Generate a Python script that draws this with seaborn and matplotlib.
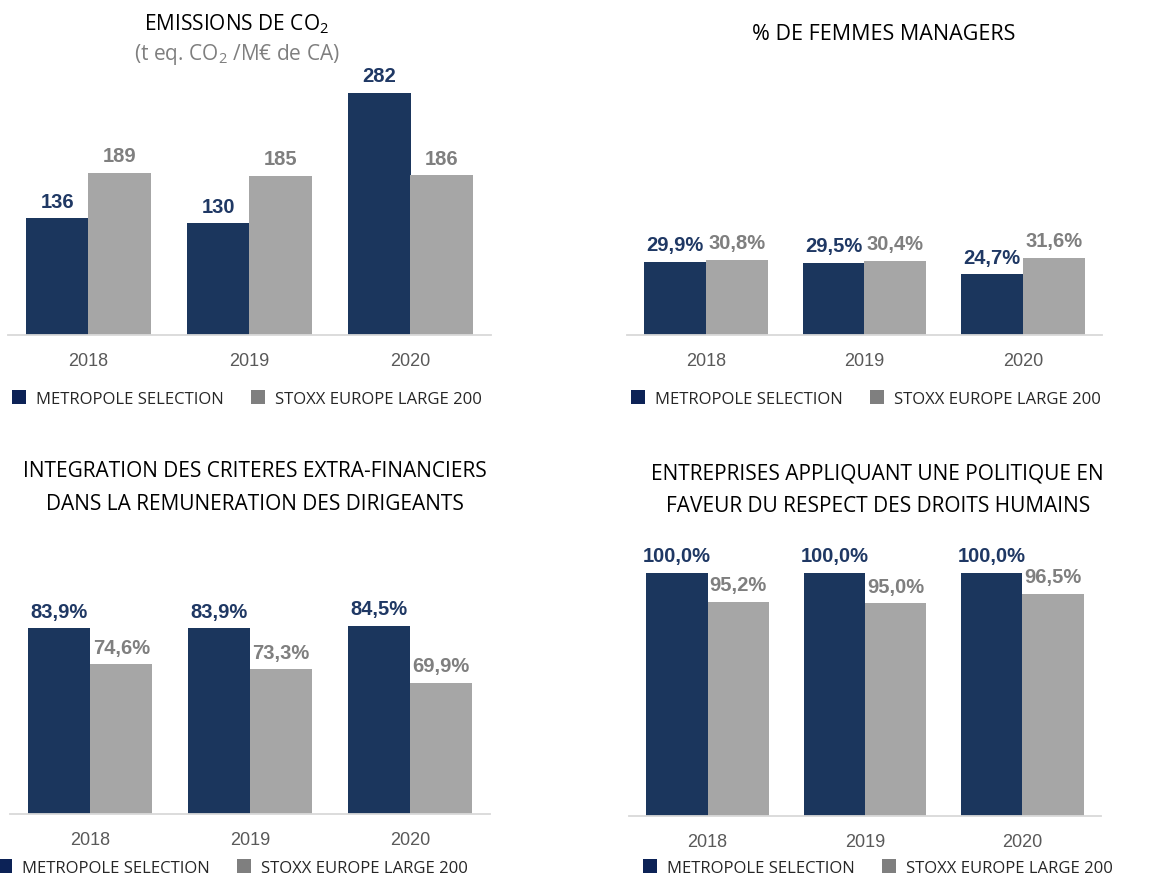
import matplotlib
matplotlib.use("Agg")
import matplotlib.pyplot as plt
from matplotlib.lines import Line2D
import seaborn as sns
import pandas as pd

# ---------------- data ----------------
years = ["2018", "2019", "2020"]
series = ["METROPOLE SELECTION", "STOXX EUROPE LARGE 200"]

co2_metropole = [136, 130, 282]
co2_stoxx = [189, 185, 186]

women_metropole = [29.9, 29.5, 24.7]
women_stoxx = [30.8, 30.4, 31.6]

remun_metropole = [83.9, 83.9, 84.5]
remun_stoxx = [74.6, 73.3, 69.9]

rights_metropole = [100.0, 100.0, 100.0]
rights_stoxx = [95.2, 95.0, 96.5]

# ---------------- style ----------------
sns.set_style("white")
TITLE_FONT = ["Open Sans", "DejaVu Sans"]
NUM_FONT = ["Liberation Sans", "DejaVu Sans"]
plt.rcParams["font.family"] = TITLE_FONT

NAVY_BAR = "#1b365d"
GRAY_BAR = "#a6a6a6"
NAVY_TXT = "#1f3864"
GRAY_TXT = "#7f7f7f"
NAVY_LEG = "#0c2256"
GRAY_LEG = "#7f7f7f"
TICK_COL = "#595959"

W, H = 1168, 878
fig = plt.figure(figsize=(W / 100, H / 100), dpi=100)
fig.patch.set_facecolor("white")


def px_axes(x0, x1, y_top, y_bottom):
    return fig.add_axes([x0 / W, 1 - y_bottom / H, (x1 - x0) / W, (y_bottom - y_top) / H])


def fmt_int(v):
    return f"{v:.0f}"


def fmt_pct(v):
    return f"{v:.1f}".replace(".", ",") + "%"


def panel(ax, a, b, ylim, fmt):
    df = pd.DataFrame({
        "year": years * 2,
        "value": list(a) + list(b),
        "series": [series[0]] * 3 + [series[1]] * 3,
    })
    sns.barplot(data=df, x="year", y="value", hue="series", order=years,
                hue_order=series, palette={series[0]: NAVY_BAR, series[1]: GRAY_BAR},
                width=0.78, linewidth=0, saturation=1, legend=False, ax=ax)
    ax.set_xlim(-0.5, 2.5)
    ax.set_ylim(*ylim)
    ax.set_xlabel("")
    ax.set_ylabel("")
    ax.set_yticks([])
    for s in ["top", "left", "right"]:
        ax.spines[s].set_visible(False)
    ax.spines["bottom"].set_color("#d9d9d9")
    ax.spines["bottom"].set_linewidth(1.3)
    ax.tick_params(axis="x", length=0, pad=12.5, labelsize=13, labelcolor=TICK_COL)
    for lab in ax.get_xticklabels():
        lab.set_fontfamily(NUM_FONT)
    for cont, vals, col in zip(ax.containers, [a, b], [NAVY_TXT, GRAY_TXT]):
        ax.bar_label(cont, labels=[fmt(v) for v in vals], padding=5.5,
                     color=col, fontsize=14.5, fontweight="bold",
                     fontfamily=NUM_FONT, clip_on=False)


def legend(ax, x_left, y_center, colspace):
    handles = [Line2D([], [], marker="s", linestyle="", markersize=10.2,
                      markeredgewidth=0, color=c) for c in (NAVY_LEG, GRAY_LEG)]
    ax.legend(handles, series, ncol=2, loc="center left",
              bbox_to_anchor=(x_left / W, 1 - y_center / H),
              bbox_transform=fig.transFigure, frameon=False,
              borderpad=0, borderaxespad=0, handlelength=0.85,
              handletextpad=0.6, columnspacing=colspace,
              prop={"family": TITLE_FONT, "size": 12})


def title(x, y, s, color="black", size=15):
    fig.text(x / W, 1 - y / H, s, ha="center", va="baseline",
             fontsize=size, color=color, fontfamily=TITLE_FONT)


# panel 1 : CO2
ax1 = px_axes(8, 491, 80, 336)
panel(ax1, co2_metropole, co2_stoxx, (0, 298), fmt_int)
legend(ax1, 12, 400, 1.6)
title(237, 30, r"EMISSIONS DE CO$_\mathregular{2}$")
title(237, 60, r"(t eq. CO$_\mathregular{2}$ /M€ de CA)", color=GRAY_TXT)

# panel 2 : women managers
ax2 = px_axes(627, 1102, 80, 336)
panel(ax2, women_metropole, women_stoxx, (0, 104.5), fmt_pct)
legend(ax2, 631, 400, 1.6)
title(884, 40, "% DE FEMMES MANAGERS", size=15.5)

# panel 3 : remuneration criteria
ax3 = px_axes(10, 490, 580, 815)
panel(ax3, remun_metropole, remun_stoxx, (36, 96.6), fmt_pct)
legend(ax3, -2, 869, 1.6)
title(255, 477, "INTEGRATION DES CRITERES EXTRA-FINANCIERS")
title(255, 510, "DANS LA REMUNERATION DES DIRIGEANTS")

# panel 4 : human rights
ax4 = px_axes(629, 1101, 570, 817)
panel(ax4, rights_metropole, rights_stoxx, (60.1, 100.6), fmt_pct)
legend(ax4, 643, 869, 1.6)
title(877, 480, "ENTREPRISES APPLIQUANT UNE POLITIQUE EN")
title(878, 512, "FAVEUR DU RESPECT DES DROITS HUMAINS")

fig.savefig("out.png", dpi=100, facecolor="white")
